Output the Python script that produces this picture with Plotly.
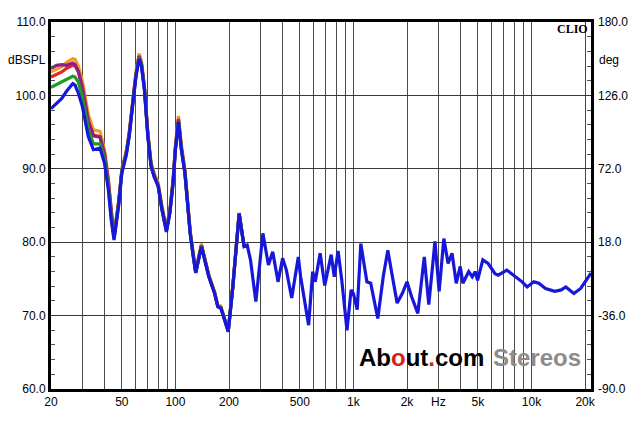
import plotly.graph_objects as go

# ---------------- data ----------------
f_low = [20, 21.5, 23, 24.5, 26.5, 27.3, 28.5, 30, 32.4, 34.6, 37.7, 40, 42, 43.6, 45.2,
         48, 50, 53, 55, 58, 60, 62.5, 64.5, 67, 70, 73, 76, 80, 84, 89, 93, 97, 100,
         104, 108, 113, 117, 121, 126, 130, 140, 154, 166, 173, 180, 198, 210, 228, 243]

orange_low = [103.2, 103.6, 103.9, 104.5, 105.0, 104.9, 104.0, 102.0, 97.4, 95.3,
              95.1, 92.6, 88.8, 84.3, 81.1, 85.7, 90.0, 92.5, 95.0, 100.0,
              103.2, 105.7, 104.6, 101.3, 95.0, 90.9, 89.4, 88.1, 85.0, 82.0,
              84.5, 88.6, 93.3, 97.2, 93.3, 90.0, 85.4, 81.7, 78.5, 76.2,
              79.8, 75.6, 73.3, 71.5, 71.3, 68.0, 74.0, 84.0, 79.4]
red_low = [102.5, 102.9, 103.2, 103.7, 104.1, 104.0, 103.2, 101.2, 96.6, 94.6,
           94.4, 92.0, 88.3, 83.9, 80.8, 85.5, 89.8, 92.3, 94.8, 99.8,
           102.9, 105.4, 104.3, 101.0, 94.7, 90.6, 89.1, 87.8, 84.7, 81.7,
           84.2, 88.3, 92.9, 96.8, 92.9, 89.7, 85.1, 81.4, 78.2, 76.0,
           79.6, 75.4, 73.1, 71.3, 71.1, 67.9, 73.9, 83.9, 79.4]
purple_low = [103.7, 104.1, 104.2, 104.1, 104.4, 104.2, 103.3, 101.0, 96.4, 94.5,
              94.3, 91.9, 88.2, 83.8, 80.7, 85.4, 89.7, 92.2, 94.7, 99.7,
              102.8, 105.3, 104.2, 100.9, 94.6, 90.5, 89.0, 87.7, 84.6, 81.6,
              84.1, 88.2, 92.8, 96.7, 92.8, 89.6, 85.0, 81.3, 78.1, 75.9,
              79.5, 75.4, 73.1, 71.3, 71.1, 67.9, 73.9, 83.9, 79.4]
green_low = [101.1, 101.5, 101.9, 102.2, 102.6, 102.5, 101.8, 99.8, 95.4, 93.4,
             93.4, 91.3, 87.7, 83.4, 80.5, 85.2, 89.6, 92.1, 94.6, 99.6,
             102.7, 105.2, 104.1, 100.8, 94.5, 90.4, 89.0, 87.7, 84.5, 81.5,
             84.0, 88.1, 92.7, 96.5, 92.7, 89.5, 84.9, 81.3, 78.1, 75.9,
             79.5, 75.4, 73.1, 71.3, 71.1, 67.9, 73.9, 83.9, 79.4]
blue_low = [98.2, 99.0, 99.6, 100.6, 101.6, 101.4, 100.3, 98.5, 94.4, 92.6,
            92.8, 90.7, 87.1, 83.0, 80.3, 85.0, 89.4, 91.9, 94.4, 99.4,
            102.5, 105.0, 103.9, 100.7, 94.4, 90.3, 88.9, 87.6, 84.4, 81.4,
            83.9, 88.0, 92.6, 96.4, 92.6, 89.4, 84.8, 81.2, 78.0, 75.8,
            79.4, 75.3, 73.0, 71.2, 71.0, 67.8, 73.9, 83.9, 79.4]

f_high = [253, 264, 283, 310, 333, 352, 377, 400, 420, 450, 490, 505, 560, 590, 610,
          650, 690, 750, 780, 820, 860, 920, 970, 1000, 1050, 1100, 1190, 1250, 1370,
          1470, 1560, 1650, 1760, 1880, 2000, 2120, 2300, 2500, 2650, 2870, 3030, 3220,
          3400, 3580, 3780, 3980, 4120, 4440, 4650, 4840, 4980, 5330, 5710, 6240, 6500,
          7270, 7930, 8860, 9460, 10300, 11000, 12000, 13500, 14700, 15600, 17300,
          18900, 20500, 21600]
blue_high = [79.6, 77.6, 71.9, 81.2, 76.9, 78.7, 74.6, 77.8, 76.2, 72.4, 78.0, 75.3,
             68.7, 76.0, 74.6, 78.5, 74.1, 78.3, 75.3, 78.8, 74.8, 68.0, 73.5, 73.0,
             70.8, 79.8, 74.6, 74.4, 69.6, 75.3, 78.9, 75.5, 71.7, 73.0, 74.6, 72.6,
             70.3, 78.0, 71.5, 80.1, 73.3, 80.5, 77.1, 78.5, 74.4, 76.7, 74.4, 76.0,
             75.3, 76.0, 74.8, 77.6, 77.1, 75.7, 75.5, 76.2, 75.5, 74.6, 73.9, 74.6,
             74.4, 73.7, 73.3, 73.5, 73.9, 73.0, 73.7, 75.0, 75.8]

x_grid = [20, 30, 40, 50, 60, 70, 80, 90, 100, 200, 300, 400, 500, 600, 700, 800, 900,
          1000, 2000, 3000, 4000, 5000, 6000, 7000, 8000, 9000, 10000, 20000]
x_labels = {20: "20", 50: "50", 100: "100", 200: "200", 500: "500", 1000: "1k",
            2000: "2k", 3000: "Hz", 5000: "5k", 10000: "10k", 20000: "20k"}
y_ticks = [60, 70, 80, 90, 100, 110]
deg_ticks = [-90, -36, 18, 72, 126, 180]

# ---------------- figure ----------------
FONT = "Liberation Sans, Arial, sans-serif"
fig = go.Figure()

series = [
    ("orange", f_low, orange_low, "#f29a22"),
    ("red", f_low, red_low, "#e02828"),
    ("purple", f_low, purple_low, "#8c2088"),
    ("green", f_low, green_low, "#1f9a22"),
    ("blue", f_low + f_high, blue_low + blue_high, "#1717dc"),
]
for name, fx, fy, col in series:
    fig.add_trace(go.Scatter(x=fx, y=fy, mode="lines", name=name,
                             line=dict(color=col, width=3.2), showlegend=False,
                             hoverinfo="skip"))

# dummy trace so the right axis is drawn
fig.add_trace(go.Scatter(x=[None], y=[None], yaxis="y2", showlegend=False,
                         hoverinfo="skip"))

# the page body has an 8px default margin, so the figure is offset by 8px
fig.update_layout(
    width=639, height=429,
    margin=dict(l=43, r=56, t=14, b=48, autoexpand=False),
    paper_bgcolor="white", plot_bgcolor="white",
    font=dict(family=FONT, size=12, color="black"),
    xaxis=dict(type="log", range=[1.30103, 4.33445],
               tickvals=x_grid,
               ticktext=[x_labels.get(v, "") for v in x_grid],
               showgrid=True, gridcolor="#4a4a4a", gridwidth=1,
               showline=True, linecolor="black", linewidth=3, mirror=True,
               ticks="", zeroline=False, tickfont=dict(size=12), automargin=False),
    yaxis=dict(range=[60, 110], tickvals=y_ticks,
               ticktext=["%.1f" % v for v in y_ticks],
               showgrid=True, gridcolor="#3a3a3a", gridwidth=1,
               showline=True, linecolor="black", linewidth=3, mirror="allticks",
               ticks="inside", ticklen=5, tickcolor="#333",
               minor=dict(dtick=2, ticks="inside", ticklen=4, tickcolor="#555",
                          showgrid=False),
               zeroline=False, tickfont=dict(size=12), automargin=False),
    yaxis2=dict(overlaying="y", side="right", range=[-90, 180],
                tickvals=deg_ticks, ticktext=["%.1f" % v for v in deg_ticks],
                showgrid=False, showline=False, ticks="", zeroline=False,
                ticklabelstandoff=6, tickfont=dict(size=12), automargin=False),
)

fig.add_annotation(xref="paper", yref="paper", x=-0.006, y=0.8965, text="dBSPL",
                   showarrow=False, xanchor="right", yanchor="middle",
                   font=dict(size=12, family=FONT))
fig.add_annotation(xref="paper", yref="paper", x=1.012, y=0.8965, text="deg",
                   showarrow=False, xanchor="left", yanchor="middle",
                   font=dict(size=12, family=FONT))
fig.add_annotation(xref="paper", yref="paper", x=0.998, y=0.982, text="<b>CLIO</b>",
                   showarrow=False, xanchor="right", yanchor="middle",
                   font=dict(size=12, family="Liberation Serif, Times New Roman, serif"))
fig.add_annotation(xref="paper", yref="paper", x=0.566, y=0.087,
                   text="<b>Ab<span style='color:#d8201c'>o</span>ut<span style='color:#d8201c'>.</span>com</b>",
                   showarrow=False, xanchor="left", yanchor="middle",
                   font=dict(size=24, family=FONT, color="black"))
fig.add_annotation(xref="paper", yref="paper", x=0.815, y=0.087,
                   text="<b>Stereos</b>",
                   showarrow=False, xanchor="left", yanchor="middle",
                   font=dict(size=24, family=FONT, color="#8c8c8c"))

fig.write_html("out.html")
